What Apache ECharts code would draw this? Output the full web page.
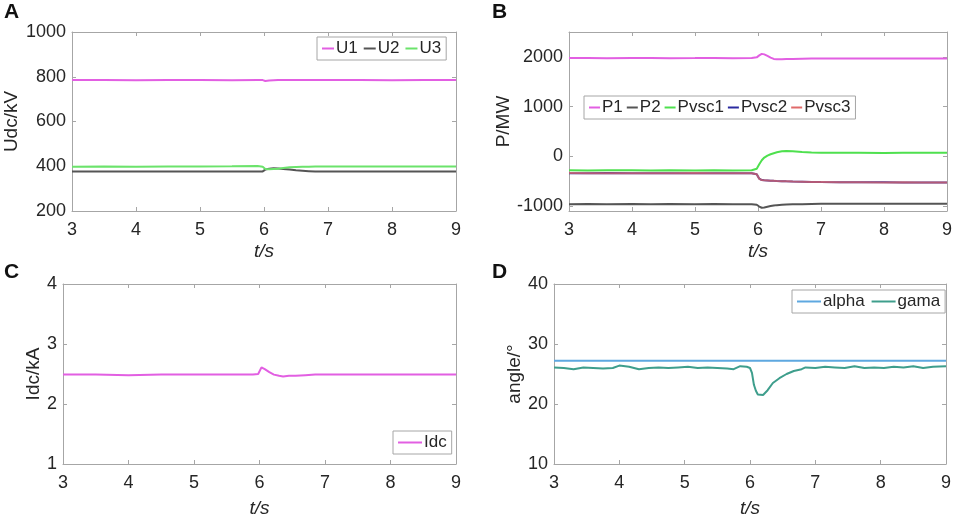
<!DOCTYPE html>
<html>
<head>
<meta charset="utf-8">
<script src="https://cdn.jsdelivr.net/npm/echarts@6/dist/echarts.min.js"></script>
<style>
  html, body { margin: 0; padding: 0; background: #fff; }
  #chart { width: 955px; height: 519px; }
</style>
</head>
<body>
<div id="chart"></div>
<script>
// ---- data ----
// A: DC voltages
const tA = [3.0, 3.5, 4.0, 4.5, 5.0, 5.5, 5.9, 5.98, 6.02, 6.08, 6.15, 6.22, 6.3, 6.4, 6.5, 6.6, 6.7, 6.8, 7.0, 7.5, 8.0, 8.5, 9.0];
const u1 = [785, 785, 784, 785, 785, 784, 785, 785, 781, 783, 784, 785, 785, 785, 785, 785, 785, 785, 785, 785, 784, 785, 785];
const u2 = [376, 377, 376, 376, 376, 377, 376, 377, 385, 389, 391, 390, 388, 385, 382, 380, 378, 376, 376, 376, 376, 376, 376];
const u3 = [398, 399, 398, 399, 399, 400, 401, 398, 388, 387, 388, 389, 392, 395, 397, 398, 398, 399, 399, 399, 399, 399, 399];

// B: powers
const tB = [3.0, 3.3, 3.6, 4.0, 4.3, 4.6, 5.0, 5.3, 5.6, 5.9, 5.98, 6.02, 6.06, 6.1, 6.15, 6.2, 6.25, 6.3, 6.38, 6.45, 6.55, 6.7, 6.85, 7.0, 7.3, 7.6, 8.0, 8.3, 8.6, 9.0];
const p1 = [1975, 1976, 1974, 1975, 1975, 1974, 1975, 1976, 1974, 1975, 1990, 2030, 2060, 2050, 2020, 1985, 1958, 1950, 1952, 1955, 1958, 1962, 1965, 1966, 1967, 1966, 1967, 1968, 1967, 1968];
const p2 = [-962, -960, -963, -961, -962, -960, -962, -961, -963, -962, -975, -1010, -1035, -1030, -1015, -1000, -990, -982, -975, -970, -965, -962, -958, -956, -955, -956, -954, -955, -956, -955];
const pvsc1 = [-280, -285, -278, -282, -286, -280, -283, -279, -284, -281, -250, -160, -80, -25, 15, 42, 62, 80, 100, 106, 100, 88, 78, 72, 70, 73, 68, 71, 69, 72];
const pvsc2 = [-340, -342, -338, -341, -343, -339, -341, -340, -342, -340, -360, -450, -478, -482, -486, -490, -494, -497, -500, -503, -507, -511, -515, -518, -520, -522, -524, -525, -527, -528];
const pvsc3 = [-338, -340, -341, -339, -340, -342, -338, -341, -340, -341, -362, -452, -476, -484, -485, -492, -493, -498, -501, -502, -508, -510, -516, -517, -521, -521, -525, -524, -528, -527];

// C: DC current
const tC = [3.0, 3.5, 4.0, 4.5, 5.0, 5.5, 5.9, 5.98, 6.03, 6.08, 6.15, 6.22, 6.3, 6.36, 6.45, 6.55, 6.7, 6.85, 7.0, 7.5, 8.0, 8.5, 9.0];
const idc = [2.49, 2.49, 2.48, 2.49, 2.49, 2.49, 2.49, 2.50, 2.61, 2.58, 2.53, 2.49, 2.47, 2.46, 2.47, 2.47, 2.48, 2.49, 2.49, 2.49, 2.49, 2.49, 2.49];

// D: angles
const tAlpha = [3.0, 6.0, 9.0];
const alpha = [27.2, 27.2, 27.2];
const tD = [3.0, 3.15, 3.3, 3.45, 3.6, 3.75, 3.9, 4.0, 4.15, 4.3, 4.45, 4.6, 4.75, 4.9, 5.05, 5.2, 5.35, 5.5, 5.65, 5.75, 5.85, 5.95, 6.0, 6.03, 6.06, 6.09, 6.12, 6.15, 6.2, 6.27, 6.35, 6.45, 6.56, 6.67, 6.79, 6.85, 7.0, 7.15, 7.3, 7.45, 7.6, 7.75, 7.9, 8.05, 8.2, 8.35, 8.5, 8.65, 8.8, 9.0];
const gama = [26.1, 26.0, 25.8, 26.1, 26.0, 25.9, 26.0, 26.4, 26.2, 25.8, 26.0, 26.1, 26.0, 26.1, 26.2, 26.0, 26.1, 26.0, 25.9, 25.8, 26.3, 26.2, 26.0, 25.2, 23.2, 22.2, 21.6, 21.3, 21.5, 22.3, 23.5, 24.3, 25.0, 25.5, 25.8, 26.1, 26.0, 26.2, 26.1, 26.0, 26.3, 26.0, 26.1, 26.0, 26.2, 26.1, 26.3, 26.0, 26.2, 26.3];

// ---- styles ----
const FONT = 'Liberation Sans, Arial, sans-serif';
const TXT = '#262626';
const FRAME = '#a6a6a6';

function pairs(t, v) {
    return t.map((x, i) => [x, v[i]]);
}

function line(name, color, t, v, g, extra) {
    return Object.assign({
        name: name,
        type: 'line',
        xAxisIndex: g * 2,
        yAxisIndex: g * 2,
        data: pairs(t, v),
        showSymbol: false,
        symbol: 'none',
        color: color,
        lineStyle: { width: 2, color: color },
        animation: false
    }, extra || {});
}

// bottom axis with labels + top axis with ticks only
function xAxes(g, gap) {
    const base = {
        type: 'value', gridIndex: g, min: 3, max: 9, interval: 1,
        axisLine: { show: true, onZero: false, lineStyle: { color: FRAME } },
        axisTick: { show: true, inside: true, length: 4, lineStyle: { color: FRAME } },
        splitLine: { show: false }
    };
    return [
        Object.assign({}, base, {
            position: 'bottom',
            axisLabel: { color: TXT, fontSize: 18, fontFamily: FONT, margin: 10, formatter: (v) => String(v) },
            name: 't/s', nameLocation: 'middle', nameGap: gap,
            nameTextStyle: { color: TXT, fontSize: 19, fontStyle: 'italic', fontFamily: FONT }
        }),
        Object.assign({}, base, { position: 'top', axisLabel: { show: false } })
    ];
}

function yAxes(g, min, max, interval, name, gap, custom) {
    const base = {
        type: 'value', gridIndex: g, min: min, max: max, interval: interval,
        axisLine: { show: true, onZero: false, lineStyle: { color: FRAME } },
        axisTick: { show: true, inside: true, length: 4, lineStyle: { color: FRAME } },
        splitLine: { show: false }
    };
    if (custom) {
        delete base.interval;
        base.axisTick.customValues = custom;
    }
    const label = { color: TXT, fontSize: 18, fontFamily: FONT, margin: 6, formatter: (v) => String(v) };
    if (custom) label.customValues = custom;
    return [
        Object.assign({}, base, {
            position: 'left',
            axisLabel: label,
            name: name, nameLocation: 'middle', nameGap: gap,
            nameTextStyle: { color: TXT, fontSize: 19, fontFamily: FONT }
        }),
        Object.assign({}, base, { position: 'right', axisLabel: { show: false } })
    ];
}

function legend(names, left, top, itemWidth, gap) {
    return {
        data: names, left: left, top: top, orient: 'horizontal',
        itemWidth: itemWidth, itemHeight: 2, itemGap: gap, icon: 'rect',
        borderColor: FRAME, borderWidth: 1, borderRadius: 0,
        backgroundColor: '#fff', padding: [3, 5],
        textStyle: { color: TXT, fontSize: 17, fontFamily: FONT, padding: [0, 0, 0, -3] }
    };
}

const grids = [
    { left: 72, top: 32, width: 384, height: 179 },
    { left: 569, top: 32, width: 378, height: 179 },
    { left: 63, top: 284, width: 393, height: 180 },
    { left: 554, top: 284, width: 392, height: 180 }
];

const option = {
    backgroundColor: '#fff',
    animation: false,
    grid: grids,
    xAxis: [].concat(xAxes(0, 31), xAxes(1, 31), xAxes(2, 35), xAxes(3, 35)),
    yAxis: [].concat(
        yAxes(0, 200, 1000, 200, 'Udc/kV', 51),
        yAxes(1, -1100, 2500, null, 'P/MW', 56, [-1000, 0, 1000, 2000]),
        yAxes(2, 1, 4, 1, 'Idc/kA', 20),
        yAxes(3, 10, 40, 10, 'angle/°', 28)
    ),
    legend: [
        legend(['U1', 'U2', 'U3'], 317, 37, 12, 6),
        legend(['P1', 'P2', 'Pvsc1', 'Pvsc2', 'Pvsc3'], 584, 96, 11, 4),
        legend(['Idc'], 393, 431, 24, 6),
        legend(['alpha', 'gama'], 792, 290, 24, 7)
    ],
    graphic: [
        { type: 'text', left: 4, top: 2, style: { text: 'A', fontSize: 21, fontWeight: 'bold', fontFamily: FONT, fill: '#111' } },
        { type: 'text', left: 492, top: 2, style: { text: 'B', fontSize: 21, fontWeight: 'bold', fontFamily: FONT, fill: '#111' } },
        { type: 'text', left: 4, top: 262, style: { text: 'C', fontSize: 21, fontWeight: 'bold', fontFamily: FONT, fill: '#111' } },
        { type: 'text', left: 492, top: 262, style: { text: 'D', fontSize: 21, fontWeight: 'bold', fontFamily: FONT, fill: '#111' } }
    ],
    series: [
        line('U1', '#e25fe2', tA, u1, 0),
        line('U2', '#555555', tA, u2, 0),
        line('U3', '#6be36b', tA, u3, 0),

        line('P1', '#e25fe2', tB, p1, 1),
        line('P2', '#555555', tB, p2, 1),
        line('Pvsc1', '#4ee04e', tB, pvsc1, 1),
        line('Pvsc2', '#2a2aa0', tB, pvsc2, 1),
        line('Pvsc3', '#e06a6a', tB, pvsc3, 1, { lineStyle: { width: 2, color: '#e06a6a', opacity: 0.75 } }),

        line('Idc', '#e25fe2', tC, idc, 2),

        line('alpha', '#5ea8e0', tAlpha, alpha, 3),
        line('gama', '#3e9e8c', tD, gama, 3)
    ]
};

const chart = echarts.init(document.getElementById('chart'));
chart.setOption(option);
</script>
</body>
</html>
